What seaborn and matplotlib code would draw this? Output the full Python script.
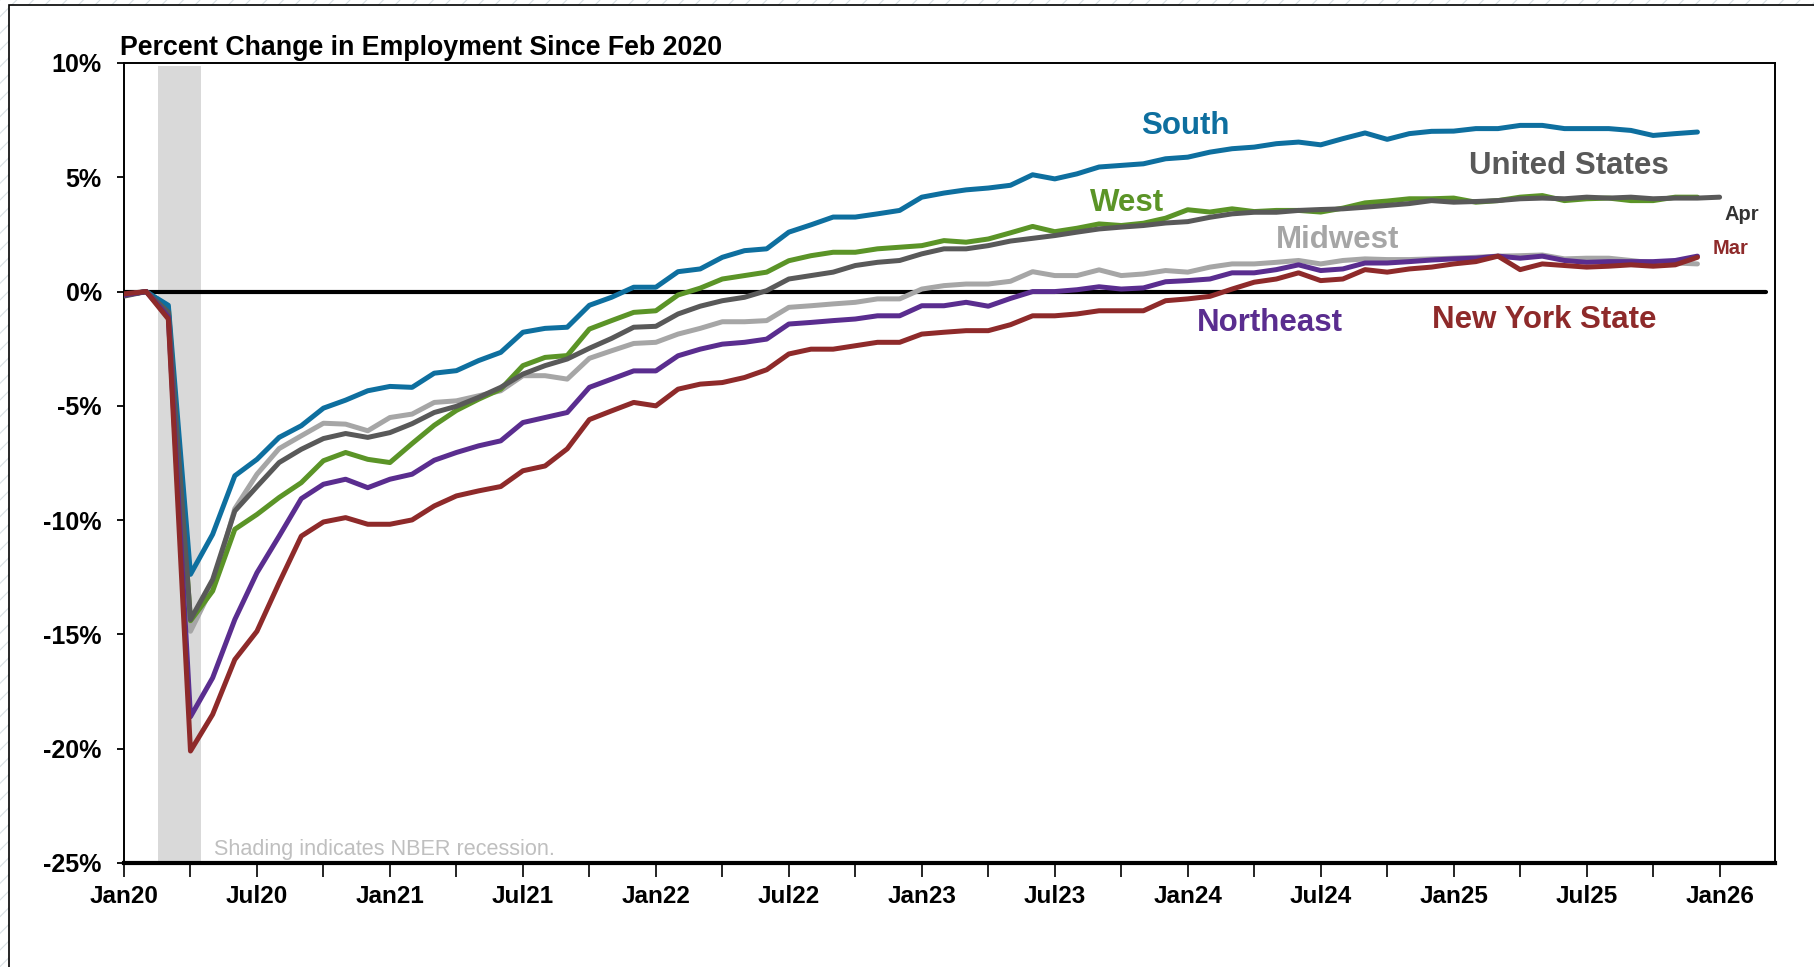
import numpy as np
import pandas as pd
import seaborn as sns
import matplotlib
matplotlib.use("Agg")
import matplotlib.pyplot as plt
from matplotlib.patches import Rectangle

# ---------------- data (percent change since Feb 2020, monthly from Jan 2020) ----------------
south = [-0.15, 0, -0.6, -12.37, -10.62, -8.06, -7.34, -6.38, -5.87, -5.1, -4.75, -4.34, -4.15, -4.19,
         -3.57, -3.46, -3.02, -2.66, -1.78, -1.61, -1.56, -0.6, -0.25, 0.19, 0.19, 0.87, 0.99, 1.5, 1.79,
         1.87, 2.6, 2.92, 3.26, 3.26, 3.4, 3.55, 4.13, 4.31, 4.45, 4.53, 4.65, 5.11, 4.93, 5.15, 5.45,
         5.52, 5.59, 5.81, 5.88, 6.1, 6.25, 6.32, 6.47, 6.54, 6.42, 6.69, 6.94, 6.66, 6.91, 7.01, 7.02,
         7.13, 7.13, 7.27, 7.27, 7.13, 7.13, 7.13, 7.05, 6.83, 6.91, 6.98]
west = [-0.15, 0, -0.7, -14.4, -13.1, -10.4, -9.75, -9.01, -8.36, -7.4, -7.04, -7.34, -7.48, -6.65,
        -5.85, -5.2, -4.71, -4.27, -3.24, -2.88, -2.8, -1.64, -1.27, -0.91, -0.84, -0.15, 0.15, 0.55,
        0.7, 0.85, 1.35, 1.57, 1.72, 1.72, 1.87, 1.94, 2.01, 2.23, 2.16, 2.3, 2.57, 2.85, 2.62, 2.77,
        2.96, 2.89, 2.99, 3.21, 3.58, 3.48, 3.62, 3.5, 3.55, 3.55, 3.48, 3.65, 3.88, 3.96, 4.06, 4.06,
        4.09, 3.91, 3.98, 4.13, 4.2, 3.98, 4.06, 4.09, 3.98, 3.98, 4.13, 4.13]
united_states = [-0.2, 0, -0.9, -14.35, -12.6, -9.6, -8.53, -7.48, -6.9, -6.43, -6.21, -6.38, -6.17,
                 -5.78, -5.29, -5.02, -4.63, -4.19, -3.61, -3.24, -2.95, -2.48, -2.05, -1.56, -1.52,
                 -0.98, -0.64, -0.4, -0.25, 0.04, 0.55, 0.7, 0.85, 1.14, 1.28, 1.36, 1.65, 1.87, 1.87,
                 2.01, 2.21, 2.33, 2.45, 2.6, 2.74, 2.82, 2.89, 3.0, 3.06, 3.25, 3.4, 3.47, 3.47, 3.55,
                 3.59, 3.62, 3.69, 3.77, 3.85, 3.98, 3.91, 3.94, 3.98, 4.06, 4.09, 4.06, 4.13, 4.09,
                 4.13, 4.06, 4.09, 4.09, 4.13]
midwest = [-0.15, 0, -0.85, -14.86, -12.9, -9.5, -7.99, -6.87, -6.31, -5.76, -5.8, -6.09, -5.51, -5.36,
           -4.85, -4.78, -4.56, -4.34, -3.68, -3.68, -3.83, -2.92, -2.59, -2.27, -2.22, -1.86, -1.61,
           -1.32, -1.32, -1.27, -0.69, -0.62, -0.54, -0.47, -0.32, -0.32, 0.11, 0.26, 0.33, 0.33, 0.45,
           0.87, 0.7, 0.7, 0.95, 0.7, 0.77, 0.92, 0.85, 1.07, 1.21, 1.21, 1.28, 1.36, 1.21, 1.36, 1.43,
           1.4, 1.4, 1.43, 1.46, 1.5, 1.55, 1.57, 1.6, 1.43, 1.46, 1.46, 1.36, 1.25, 1.25, 1.21]
northeast = [-0.15, 0, -1.1, -18.6, -16.9, -14.35, -12.3, -10.7, -9.06, -8.43, -8.21, -8.58, -8.21,
             -7.99, -7.38, -7.04, -6.75, -6.53, -5.73, -5.51, -5.29, -4.19, -3.83, -3.47, -3.47, -2.81,
             -2.52, -2.3, -2.22, -2.08, -1.42, -1.35, -1.27, -1.2, -1.06, -1.06, -0.62, -0.62, -0.47,
             -0.64, -0.3, 0.0, 0.0, 0.08, 0.21, 0.11, 0.16, 0.43, 0.48, 0.55, 0.82, 0.82, 0.96, 1.17,
             0.92, 0.99, 1.25, 1.25, 1.31, 1.38, 1.43, 1.46, 1.55, 1.46, 1.55, 1.36, 1.28, 1.31, 1.31,
             1.31, 1.36, 1.55]
new_york_state = [-0.1, 0, -1.2, -20.1, -18.5, -16.1, -14.86, -12.74, -10.7, -10.08, -9.89, -10.18,
                  -10.18, -9.99, -9.38, -8.94, -8.72, -8.53, -7.84, -7.63, -6.88, -5.6, -5.22, -4.85,
                  -5.0, -4.27, -4.05, -3.98, -3.76, -3.42, -2.73, -2.52, -2.52, -2.37, -2.22, -2.22,
                  -1.86, -1.78, -1.71, -1.71, -1.45, -1.06, -1.06, -0.98, -0.84, -0.84, -0.84, -0.4,
                  -0.32, -0.21, 0.11, 0.41, 0.55, 0.82, 0.48, 0.55, 0.96, 0.85, 0.99, 1.07, 1.21, 1.31,
                  1.55, 0.96, 1.21, 1.14, 1.07, 1.11, 1.17, 1.11, 1.17, 1.5]

series_names = ["Midwest", "West", "South", "United States", "Northeast", "New York State"]
series_values = [midwest, west, south, united_states, northeast, new_york_state]
series_colors = ["#a6a6a6", "#5b9427", "#0e6f9f", "#595959", "#5a2d8f", "#8e2a2a"]

x_tick_labels = ["Jan20", "Jul20", "Jan21", "Jul21", "Jan22", "Jul22", "Jan23",
                 "Jul23", "Jan24", "Jul24", "Jan25", "Jul25", "Jan26"]
y_ticks = [10, 5, 0, -5, -10, -15, -20, -25]
y_tick_labels = ["10%", "5%", "0%", "-5%", "-10%", "-15%", "-20%", "-25%"]

recession_start, recession_end = 1.53, 3.47  # month index (Feb-Apr 2020)

# labels: (text, x month index, y value, size, ha, colour)
series_labels = [
    ("South", 47.9, 6.88, 22.5, "center", "#0e6f9f"),
    ("United States", 65.2, 5.15, 22.5, "center", "#595959"),
    ("West", 45.24, 3.52, 22.5, "center", "#5b9427"),
    ("Midwest", 54.76, 1.91, 22.5, "center", "#a6a6a6"),
    ("Northeast", 51.72, -1.71, 22.5, "center", "#5a2d8f"),
    ("New York State", 64.1, -1.61, 22.5, "center", "#8e2a2a"),
    ("Apr", 72.2, 3.15, 14.5, "left", "#333333"),
    ("Mar", 71.7, 1.65, 14.5, "left", "#8e2a2a"),
]

# ---------------- build long data frame ----------------
frames = []
for name, vals in zip(series_names, series_values):
    frames.append(pd.DataFrame({"month": np.arange(len(vals)), "value": vals, "series": name}))
df = pd.concat(frames, ignore_index=True)

# ---------------- style ----------------
sns.set_style("white")
plt.rcParams["font.family"] = ["Liberation Sans", "DejaVu Sans"]

W, H = 1814, 967
fig = plt.figure(figsize=(W / 100, H / 100), dpi=100)
fig.patch.set_facecolor("white")

# hatched outer frame + white inner sheet
plt.rcParams["hatch.linewidth"] = 0.8
fig.patches.append(Rectangle((0, 0), 1, 1, transform=fig.transFigure, facecolor="white",
                             edgecolor="#d8dfe3", hatch="//", linewidth=0, zorder=-20))
fig.patches.append(Rectangle((9 / W, -0.05), 1.2, 1 - 5 / H + 0.05, transform=fig.transFigure,
                             facecolor="white", edgecolor="black", linewidth=1.2, zorder=-19))

ax = fig.add_axes([124 / W, 1 - 863 / H, (1775 - 124) / W, (863 - 63) / H])
ax.set_facecolor("white")

xmax = 74.5
ax.set_xlim(0, xmax)
ax.set_ylim(-25, 10)

# recession shading
ax.axvspan(recession_start, recession_end, ymin=0, ymax=(9.85 + 25) / 35,
           color="#d9d9d9", lw=0, zorder=0)
# zero line
ax.axhline(0, xmin=0, xmax=74.1 / xmax, color="black", lw=3.0, zorder=1)

palette = dict(zip(series_names, series_colors))
sns.lineplot(data=df, x="month", y="value", hue="series", hue_order=series_names,
             palette=palette, linewidth=3.6, legend=False, ax=ax, estimator=None, sort=False,
             solid_joinstyle="round", solid_capstyle="round", zorder=3)

# spines
for side in ["left", "top", "right"]:
    ax.spines[side].set_visible(True)
    ax.spines[side].set_color("black")
    ax.spines[side].set_linewidth(1.4)
ax.spines["bottom"].set_visible(True)
ax.spines["bottom"].set_color("black")
ax.spines["bottom"].set_linewidth(3.0)

# ticks
ax.set_xticks(np.arange(0, 73, 3))
ax.set_xticklabels([x_tick_labels[i // 6] if i % 6 == 0 else "" for i in range(0, 73, 3)],
                   fontsize=17.5, fontweight="bold")
ax.set_yticks(y_ticks)
ax.set_yticklabels(y_tick_labels, fontsize=18, fontweight="bold")
ax.tick_params(axis="x", direction="out", length=10, width=1.2, pad=6, colors="black",
               bottom=True)
ax.tick_params(axis="y", direction="out", length=5, width=1.3, pad=11, colors="black",
               left=True)
ax.set_xlabel("")
ax.set_ylabel("")
ax.grid(False)

# title
fig.text(120.5 / W, 1 - 55 / H, "Percent Change in Employment Since Feb 2020",
         fontsize=19.3, fontweight="bold", ha="left", va="baseline", color="black")

# series labels
for text, xv, yv, size, ha, col in series_labels:
    ax.text(xv, yv, text, fontsize=size, fontweight="bold", color=col, ha=ha, va="baseline",
            zorder=5)

# recession note
ax.text(4.04, -24.65, "Shading indicates NBER recession.", fontsize=15.6, color="#bfbfbf",
        ha="left", va="baseline")

fig.savefig("out.png", dpi=100, facecolor=fig.get_facecolor())
